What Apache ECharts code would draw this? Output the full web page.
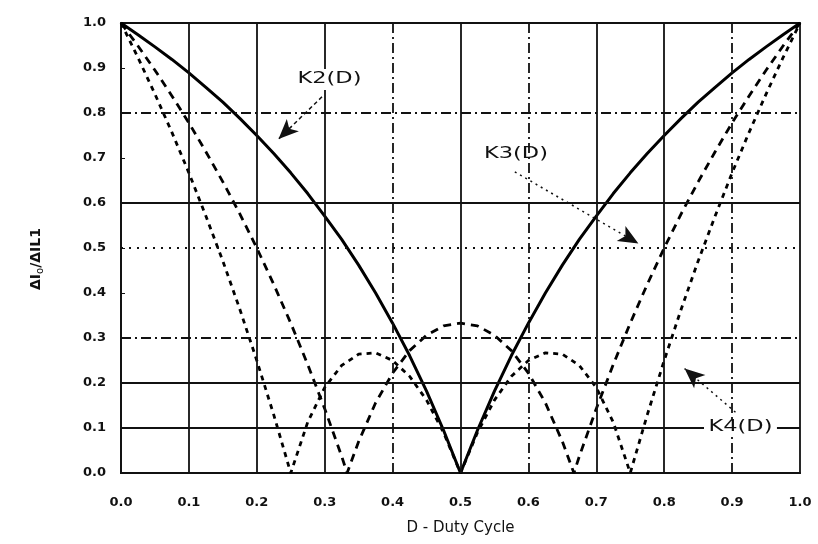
<!DOCTYPE html>
<html>
<head>
<meta charset="utf-8">
<script src="https://cdn.jsdelivr.net/npm/echarts@6/dist/echarts.min.js"></script>
<style>html,body{margin:0;padding:0;background:#fff;}#c{width:818px;height:544px;}</style>
</head>
<body>
<div id="c"></div>
<script>
// Duty cycle sample points
var dK2 = [0,0.025,0.05,0.075,0.1,0.125,0.15,0.175,0.2,0.225,0.25,0.275,0.3,0.325,0.35,0.375,0.4,0.425,0.45,0.475,0.5,
           0.525,0.55,0.575,0.6,0.625,0.65,0.675,0.7,0.725,0.75,0.775,0.8,0.825,0.85,0.875,0.9,0.925,0.95,0.975,1.0];
var k2 = [1.0,0.974,0.947,0.919,0.889,0.857,0.824,0.788,0.75,0.71,0.667,0.621,0.571,0.519,0.462,0.4,0.333,0.261,0.182,0.095,0.0,
          0.095,0.182,0.261,0.333,0.4,0.462,0.519,0.571,0.621,0.667,0.71,0.75,0.788,0.824,0.857,0.889,0.919,0.947,0.974,1.0];

var dK3 = [0,0.025,0.05,0.075,0.1,0.125,0.15,0.175,0.2,0.225,0.25,0.275,0.3,0.325,0.333,0.35,0.375,0.4,0.425,0.45,0.475,0.5,
           0.525,0.55,0.575,0.6,0.625,0.65,0.667,0.675,0.7,0.725,0.75,0.775,0.8,0.825,0.85,0.875,0.9,0.925,0.95,0.975,1.0];
var k3 = [1.0,0.949,0.895,0.838,0.778,0.714,0.647,0.576,0.5,0.419,0.333,0.241,0.143,0.037,0.0,0.07,0.156,0.222,0.272,0.306,0.327,0.333,
          0.327,0.306,0.272,0.222,0.156,0.07,0.0,0.037,0.143,0.241,0.333,0.419,0.5,0.576,0.647,0.714,0.778,0.838,0.895,0.949,1.0];

var dK4 = dK2;
var k4 = [1.0,0.923,0.842,0.757,0.667,0.571,0.471,0.364,0.25,0.129,0.0,0.113,0.19,0.239,0.264,0.267,0.25,0.215,0.162,0.09,0.0,
          0.09,0.162,0.215,0.25,0.267,0.264,0.239,0.19,0.113,0.0,0.129,0.25,0.364,0.471,0.571,0.667,0.757,0.842,0.923,1.0];

var tickLabels = ['0.0','0.1','0.2','0.3','0.4','0.5','0.6','0.7','0.8','0.9','1.0'];

// grid lines present in the reference
var vGrid = [0.1,0.2,0.3,0.4,0.5,0.6,0.7,0.8,0.9];
var vGridKind = ['solid','solid','solid','dashdot','solid','dashdot','solid','solid','dashdot'];
var hGrid = [0.1,0.2,0.3,0.5,0.6,0.8];
var hGridKind = ['solid','solid','dashdot','dotted','solid','dashdot'];

// annotation arrows [fromD, fromY, toD, toY]
var arrowK2 = [0.296,0.836,0.232,0.742];
var arrowK3 = [0.58,0.669,0.762,0.51];
var arrowK4 = [0.905,0.135,0.83,0.232];

function pair(xs, ys){ return xs.map(function(x,i){ return [x, ys[i]]; }); }
var dashTypes = {solid:'solid', dashdot:[10,4,2,4], dotted:[2,6]};

var gridLines = [];
vGrid.forEach(function(v,i){ gridLines.push({xAxis:v, lineStyle:{type:dashTypes[vGridKind[i]], width:1.8, color:'#111'}}); });
hGrid.forEach(function(v,i){ gridLines.push({yAxis:v, lineStyle:{type:dashTypes[hGridKind[i]], width:1.8, color:'#111'}}); });

function arrow(a, type){
  return [{coord:[a[0],a[1]], symbol:'none'},{coord:[a[2],a[3]], symbol:'arrow', symbolSize:[13,20], lineStyle:{type:type}}];
}

var chart = echarts.init(document.getElementById('c'));
var fontFam = '"DejaVu Sans", "Liberation Sans", sans-serif';
chart.setOption({
  backgroundColor:'#fff',
  animation:false,
  grid:{left:121,right:18,top:23,bottom:71,show:true,borderColor:'#111',borderWidth:1.8},
  xAxis:{type:'value',min:0,max:1,interval:0.1,
    axisLine:{show:true,lineStyle:{color:'#111',width:1.8}},
    axisTick:{show:false},
    splitLine:{show:false},
    axisLabel:{margin:23,color:'#111',fontFamily:fontFam,fontWeight:'bold',fontSize:13,
      formatter:function(v){ return tickLabels[Math.round(v*10)]; }},
    name:'D - Duty Cycle',nameLocation:'middle',nameGap:48,
    nameTextStyle:{color:'#111',fontFamily:fontFam,fontSize:15}
  },
  yAxis:{type:'value',min:0,max:1,interval:0.1,
    axisLine:{show:true,lineStyle:{color:'#111',width:1.8}},
    axisTick:{show:true,inside:true,length:4,lineStyle:{color:'#111'}},
    splitLine:{show:false},
    axisLabel:{margin:15,color:'#111',fontFamily:fontFam,fontWeight:'bold',fontSize:13,
      formatter:function(v){ return tickLabels[Math.round(v*10)]; }},
    name:'{a|ΔI}{s|o}{a|/ΔIL1}',nameLocation:'middle',nameGap:76,nameRotate:90,
    nameTextStyle:{padding:[0,0,0,-22],rich:{a:{color:'#111',fontFamily:fontFam,fontSize:14,fontWeight:'bold'},s:{color:'#111',fontFamily:fontFam,fontSize:10,padding:[8,0,0,0]}}}
  },
  series:[
    {type:'line',data:[],silent:true,
      markLine:{silent:true,symbol:'none',label:{show:false},data:gridLines}},
    {name:'K2(D)',type:'line',data:pair(dK2,k2),showSymbol:false,smooth:false,z:3,
      lineStyle:{color:'#000',width:3,type:'solid'}},
    {name:'K3(D)',type:'line',data:pair(dK3,k3),showSymbol:false,smooth:false,z:3,
      lineStyle:{color:'#000',width:2.8,type:[8,6]}},
    {name:'K4(D)',type:'line',data:pair(dK4,k4),showSymbol:false,smooth:false,z:3,
      lineStyle:{color:'#000',width:2.8,type:[5,5]}},
    {type:'line',data:[],silent:true,z:5,
      markLine:{silent:true,label:{show:false},lineStyle:{color:'#111',width:1.5},
        data:[arrow(arrowK2,[4,3]),arrow(arrowK3,[2,4]),arrow(arrowK4,[2,4])]}}
  ],
  graphic:[
    {type:'text',x:296,y:69,scaleX:1.5,z:100,style:{text:'K2(D)',fill:'#111',font:'15px '+fontFam,backgroundColor:'#fff',padding:[3,1]}},
    {type:'text',x:484,y:147,scaleX:1.5,z:100,style:{text:'K3(D)',fill:'#111',font:'15px '+fontFam}},
    {type:'text',x:704,y:419,scaleX:1.5,z:100,style:{text:'K4(D)',fill:'#111',font:'15px '+fontFam,backgroundColor:'#fff',padding:[1,3]}}
  ]
});
</script>
</body>
</html>
